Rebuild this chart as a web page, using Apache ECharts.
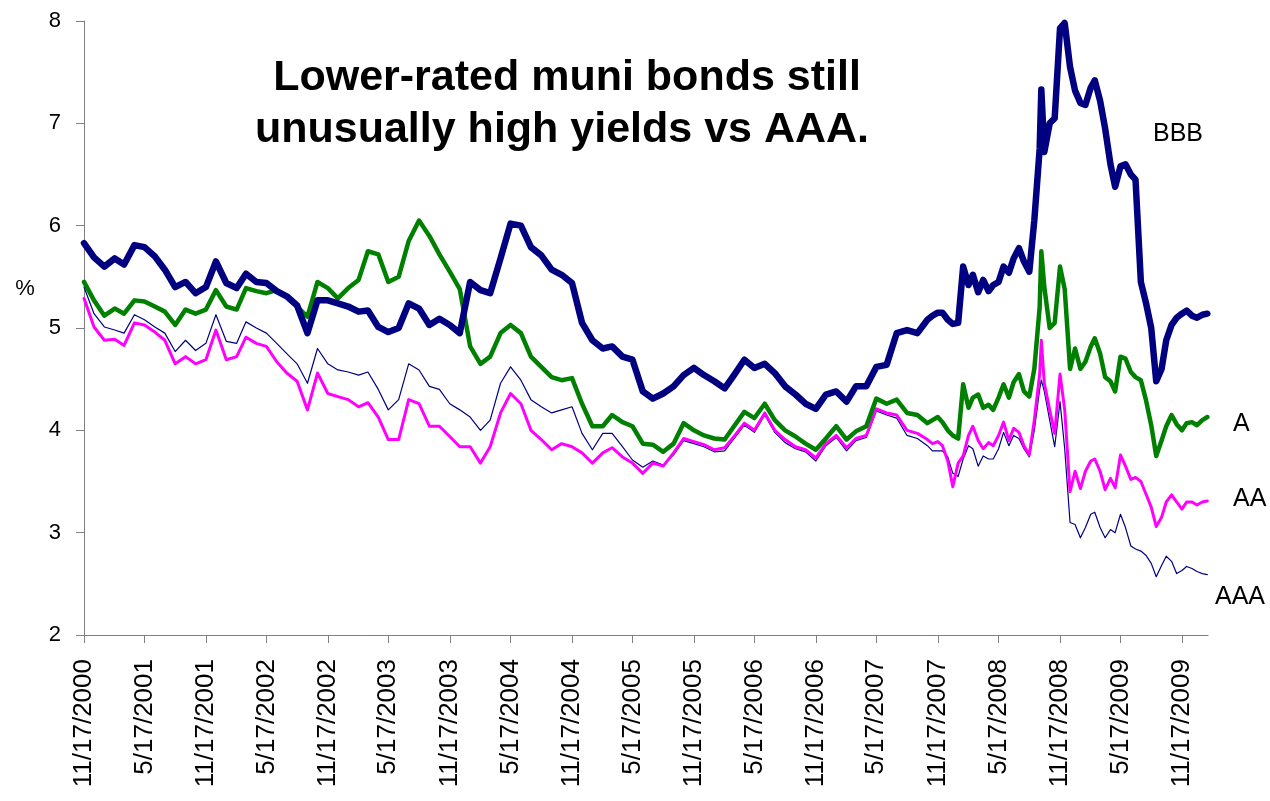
<!DOCTYPE html>
<html>
<head>
<meta charset="utf-8">
<title>Muni bond yields by rating</title>
<script src="https://cdn.jsdelivr.net/npm/echarts@6/dist/echarts.min.js"></script>
<style>
html, body { margin: 0; padding: 0; background: #fff; }
#chart { width: 1270px; height: 801px; }
</style>
</head>
<body>
<div id="chart"></div>
<script>
// monthly readings up to Oct 2007, twice a month after that
const dates = [
  '2000-11-17', '2000-12-17',
  '2001-01-17', '2001-02-17', '2001-03-17', '2001-04-17', '2001-05-17', '2001-06-17',
  '2001-07-17', '2001-08-17', '2001-09-17', '2001-10-17', '2001-11-17', '2001-12-17',
  '2002-01-17', '2002-02-17', '2002-03-17', '2002-04-17', '2002-05-17', '2002-06-17',
  '2002-07-17', '2002-08-17', '2002-09-17', '2002-10-17', '2002-11-17', '2002-12-17',
  '2003-01-17', '2003-02-17', '2003-03-17', '2003-04-17', '2003-05-17', '2003-06-17',
  '2003-07-17', '2003-08-17', '2003-09-17', '2003-10-17', '2003-11-17', '2003-12-17',
  '2004-01-17', '2004-02-17', '2004-03-17', '2004-04-17', '2004-05-17', '2004-06-17',
  '2004-07-17', '2004-08-17', '2004-09-17', '2004-10-17', '2004-11-17', '2004-12-17',
  '2005-01-17', '2005-02-17', '2005-03-17', '2005-04-17', '2005-05-17', '2005-06-17',
  '2005-07-17', '2005-08-17', '2005-09-17', '2005-10-17', '2005-11-17', '2005-12-17',
  '2006-01-17', '2006-02-17', '2006-03-17', '2006-04-17', '2006-05-17', '2006-06-17',
  '2006-07-17', '2006-08-17', '2006-09-17', '2006-10-17', '2006-11-17', '2006-12-17',
  '2007-01-17', '2007-02-17', '2007-03-17', '2007-04-17', '2007-05-17', '2007-06-17',
  '2007-07-17', '2007-08-17', '2007-09-17', '2007-10-17',
  '2007-11-01', '2007-11-17', '2007-12-01', '2007-12-17',
  '2008-01-01', '2008-01-17', '2008-02-01', '2008-02-17', '2008-03-01', '2008-03-17',
  '2008-04-01', '2008-04-17', '2008-05-01', '2008-05-17', '2008-06-01', '2008-06-17',
  '2008-07-01', '2008-07-17', '2008-08-01', '2008-08-17', '2008-09-01', '2008-09-17',
  '2008-09-22', '2008-10-01', '2008-10-17', '2008-11-01', '2008-11-17', '2008-12-01', '2008-12-17',
  '2009-01-01', '2009-01-17', '2009-02-01', '2009-02-17', '2009-03-01', '2009-03-17',
  '2009-04-01', '2009-04-17', '2009-05-01', '2009-05-17', '2009-06-01', '2009-06-17',
  '2009-07-01', '2009-07-17', '2009-08-01', '2009-08-17', '2009-09-01', '2009-09-17',
  '2009-10-01', '2009-10-17', '2009-11-01', '2009-11-17', '2009-12-01', '2009-12-17',
  '2010-01-01', '2010-01-17', '2010-02-01'
];

const bbb = [
  5.83, 5.69,
  5.60, 5.68, 5.62, 5.81, 5.79, 5.70, 5.57, 5.40, 5.45, 5.34, 5.40, 5.65,
  5.44, 5.39, 5.53, 5.45, 5.44, 5.36, 5.31, 5.22, 4.95, 5.27, 5.27, 5.24,
  5.21, 5.16, 5.17, 5.01, 4.96, 5.00, 5.24, 5.19, 5.03, 5.09, 5.03, 4.95,
  5.45, 5.37, 5.34, 5.68, 6.02, 6.00, 5.79, 5.71, 5.57, 5.52, 5.44, 5.05,
  4.88, 4.80, 4.82, 4.72, 4.69, 4.38, 4.31, 4.36, 4.43, 4.54, 4.61, 4.54,
  4.48, 4.41, 4.54, 4.69, 4.61, 4.65, 4.56, 4.43, 4.35, 4.26, 4.21, 4.35,
  4.38, 4.28, 4.43, 4.43, 4.62, 4.64, 4.95, 4.98, 4.95, 5.08,
  5.12, 5.15, 5.15, 5.08,
  5.04, 5.05, 5.60, 5.42, 5.52, 5.35, 5.47, 5.36, 5.42, 5.45, 5.60, 5.54,
  5.68, 5.78, 5.65, 5.55, 6.05, 6.75, 7.33, 6.72, 7.00, 7.05, 7.93, 7.98, 7.55,
  7.32, 7.20, 7.18, 7.35, 7.42, 7.22, 6.95, 6.60, 6.38, 6.58, 6.60, 6.50,
  6.45, 5.45, 5.25, 5.00, 4.48, 4.60, 4.88, 5.03, 5.10, 5.14, 5.17, 5.12,
  5.10, 5.13, 5.14
];

const singleA = [
  5.45, 5.27,
  5.12, 5.19, 5.14, 5.27, 5.26, 5.21, 5.16, 5.03, 5.18, 5.14, 5.18, 5.37,
  5.21, 5.18, 5.39, 5.36, 5.34, 5.37, 5.31, 5.21, 5.11, 5.45, 5.39, 5.29,
  5.39, 5.47, 5.75, 5.72, 5.45, 5.50, 5.85, 6.05, 5.90, 5.72, 5.55, 5.38,
  4.82, 4.65, 4.72, 4.95, 5.03, 4.95, 4.72, 4.62, 4.52, 4.49, 4.51, 4.26,
  4.04, 4.04, 4.15, 4.08, 4.04, 3.87, 3.86, 3.79, 3.87, 4.07, 4.00, 3.95,
  3.92, 3.91, 4.04, 4.18, 4.12, 4.26, 4.10, 4.00, 3.94, 3.87, 3.81, 3.92,
  4.04, 3.91, 3.99, 4.04, 4.31, 4.26, 4.30, 4.17, 4.15, 4.07,
  4.10, 4.13, 4.08, 4.00,
  3.95, 3.92, 4.45, 4.22, 4.32, 4.35, 4.22, 4.25, 4.20, 4.32, 4.45, 4.32,
  4.47, 4.55, 4.38, 4.33, 4.60, 5.20, 5.75, 5.40, 5.00, 5.05, 5.60, 5.38, 4.60,
  4.80, 4.60, 4.67, 4.82, 4.90, 4.75, 4.52, 4.48, 4.38, 4.72, 4.70, 4.57,
  4.52, 4.49, 4.30, 4.05, 3.75, 3.90, 4.04, 4.15, 4.06, 4.00, 4.07, 4.08,
  4.05, 4.10, 4.13
];

const doubleA = [
  5.29, 5.01,
  4.88, 4.89, 4.83, 5.05, 5.03, 4.96, 4.88, 4.65, 4.72, 4.65, 4.69, 4.98,
  4.69, 4.72, 4.91, 4.85, 4.82, 4.67, 4.56, 4.48, 4.20, 4.56, 4.36, 4.33,
  4.30, 4.23, 4.27, 4.13, 3.91, 3.91, 4.30, 4.26, 4.04, 4.04, 3.94, 3.84,
  3.84, 3.68, 3.84, 4.17, 4.36, 4.26, 4.00, 3.91, 3.81, 3.87, 3.84, 3.78,
  3.68, 3.78, 3.83, 3.74, 3.68, 3.58, 3.68, 3.65, 3.78, 3.92, 3.89, 3.86,
  3.81, 3.83, 3.94, 4.07, 4.00, 4.17, 4.00, 3.91, 3.84, 3.81, 3.73, 3.87,
  3.95, 3.83, 3.92, 3.95, 4.21, 4.17, 4.15, 4.00, 3.97, 3.91,
  3.87, 3.89, 3.85, 3.70,
  3.45, 3.68, 3.75, 3.95, 4.04, 3.90, 3.82, 3.88, 3.85, 3.95, 4.08, 3.90,
  4.02, 3.98, 3.85, 3.76, 4.10, 4.55, 4.88, 4.46, 4.20, 3.97, 4.55, 4.20, 3.40,
  3.60, 3.43, 3.60, 3.70, 3.72, 3.60, 3.42, 3.53, 3.44, 3.76, 3.65, 3.52,
  3.54, 3.50, 3.38, 3.25, 3.06, 3.15, 3.30, 3.37, 3.30, 3.23, 3.30, 3.30,
  3.27, 3.30, 3.31
];

const tripleA = [
  5.40, 5.14,
  5.01, 4.98, 4.95, 5.13, 5.08, 5.01, 4.95, 4.77, 4.88, 4.78, 4.85, 5.13,
  4.87, 4.85, 5.06, 5.00, 4.95, 4.85, 4.75, 4.65, 4.46, 4.80, 4.65, 4.59,
  4.57, 4.54, 4.57, 4.40, 4.20, 4.30, 4.65, 4.59, 4.43, 4.40, 4.26, 4.20,
  4.13, 4.00, 4.10, 4.46, 4.62, 4.49, 4.30, 4.23, 4.17, 4.20, 4.23, 3.97,
  3.81, 3.97, 3.97, 3.84, 3.71, 3.64, 3.70, 3.66, 3.76, 3.90, 3.87, 3.84,
  3.79, 3.80, 3.92, 4.05, 3.98, 4.15, 3.98, 3.88, 3.82, 3.79, 3.70, 3.85,
  3.93, 3.80, 3.90, 3.93, 4.19, 4.15, 4.12, 3.95, 3.92, 3.85,
  3.80, 3.80, 3.80, 3.74,
  3.58, 3.55, 3.72, 3.85, 3.82, 3.65, 3.75, 3.72, 3.72, 3.82, 3.98, 3.85,
  3.95, 3.92, 3.82, 3.74, 4.00, 4.40, 4.49, 4.38, 4.10, 3.84, 4.28, 3.82, 3.10,
  3.08, 2.95, 3.05, 3.18, 3.20, 3.05, 2.95, 3.03, 3.00, 3.18, 3.05, 2.87,
  2.84, 2.82, 2.78, 2.70, 2.57, 2.68, 2.77, 2.72, 2.60, 2.63, 2.67, 2.65,
  2.62, 2.60, 2.59
];

// x axis tick dates (every six months)
const tickDates = [
  '2000-11-17', '2001-05-17', '2001-11-17', '2002-05-17', '2002-11-17', '2003-05-17',
  '2003-11-17', '2004-05-17', '2004-11-17', '2005-05-17', '2005-11-17', '2006-05-17',
  '2006-11-17', '2007-05-17', '2007-11-17', '2008-05-17', '2008-11-17', '2009-05-17',
  '2009-11-17'
];

const toTime = s => new Date(s + 'T00:00:00').getTime();
const tickTimes = tickDates.map(toTime);
const pairs = vals => dates.map((d, i) => [toTime(d), vals[i]]);

const font = '"Liberation Sans", Arial, sans-serif';

function lineSeries(name, vals, color, width) {
    return {
        name: name,
        type: 'line',
        data: pairs(vals),
        symbol: 'none',
        smooth: false,
        lineStyle: { color: color, width: width, join: 'round', cap: 'round' },
        itemStyle: { color: color }
    };
}

const chart = echarts.init(document.getElementById('chart'));
chart.setOption({
    animation: false,
    backgroundColor: '#ffffff',
    grid: { left: 84, right: 62, top: 21, bottom: 166 },
    // dates kept as timestamps on a value axis so the 6-month ticks can be placed exactly
    xAxis: {
        type: 'value',
        min: toTime('2000-11-17'),
        max: toTime('2010-02-03'),
        axisLine: { lineStyle: { color: '#808080', width: 1 } },
        axisTick: { show: true, length: 8, customValues: tickTimes, lineStyle: { color: '#808080' } },
        axisLabel: {
            customValues: tickTimes,
            rotate: 90,
            margin: 24,
            fontSize: 26,
            fontFamily: font,
            color: '#000',
            formatter: function (val) {
                const d = new Date(val);
                return (d.getMonth() + 1) + '/' + d.getDate() + '/' + d.getFullYear();
            }
        },
        splitLine: { show: false }
    },
    yAxis: {
        type: 'value',
        min: 2,
        max: 8,
        interval: 1,
        axisLine: { show: true, lineStyle: { color: '#808080', width: 1 } },
        axisTick: { show: true, length: 8, lineStyle: { color: '#808080' } },
        axisLabel: { fontSize: 22, fontFamily: font, color: '#000', margin: 23 },
        splitLine: { show: false }
    },
    series: [
        lineSeries('AAA', tripleA, '#000080', 1.2),
        lineSeries('AA', doubleA, '#ff00ff', 3),
        lineSeries('A', singleA, '#008000', 4.5),
        lineSeries('BBB', bbb, '#000080', 6.5)
    ],
    graphic: [
        { type: 'text', x: 567, y: 78, style: { text: 'Lower-rated muni bonds still', font: 'bold 43px "Comic Sans MS", "Liberation Sans", Arial', fill: '#000', align: 'center', verticalAlign: 'middle' } },
        { type: 'text', x: 562, y: 130, style: { text: 'unusually high yields vs AAA.', font: 'bold 43px "Comic Sans MS", "Liberation Sans", Arial', fill: '#000', align: 'center', verticalAlign: 'middle' } },
        { type: 'text', x: 25, y: 289, style: { text: '%', font: '22px ' + font, fill: '#000', align: 'center', verticalAlign: 'middle' } },
        { type: 'text', x: 1153, y: 134, style: { text: 'BBB', font: '25px ' + font, fill: '#000', align: 'left', verticalAlign: 'middle' } },
        { type: 'text', x: 1233, y: 424, style: { text: 'A', font: '25px ' + font, fill: '#000', align: 'left', verticalAlign: 'middle' } },
        { type: 'text', x: 1233, y: 499, style: { text: 'AA', font: '25px ' + font, fill: '#000', align: 'left', verticalAlign: 'middle' } },
        { type: 'text', x: 1215, y: 597, style: { text: 'AAA', font: '25px ' + font, fill: '#000', align: 'left', verticalAlign: 'middle' } }
    ]
});
</script>
</body>
</html>
